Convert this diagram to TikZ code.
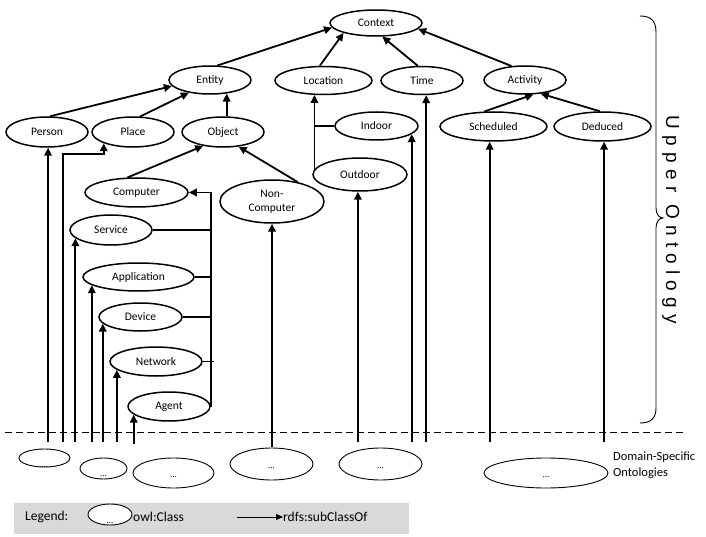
\documentclass[tikz,border=0pt]{standalone}
\usepackage{fontspec}
\setmainfont{Carlito}
\newfontfamily\uofont[LetterSpace=33]{Liberation Sans}
\usetikzlibrary{shapes.geometric,arrows.meta,backgrounds}
\begin{document}
\begin{tikzpicture}[x=1pt,y=-1pt,
  cls/.style={ellipse,draw,line width=1.5pt,fill=white,inner sep=0pt,font=\fontsize{11.5}{14}\selectfont},
  dom/.style={ellipse,draw,line width=0.9pt,fill=white,inner sep=0pt,font=\fontsize{9}{10}\selectfont},
  arr/.style={line width=1.8pt,-{Triangle[length=8pt,width=7.5pt]}},
  ln/.style={line width=1.8pt},
  sz/.style 2 args={minimum width=#1,minimum height=#2},
  lgtext/.style={font=\fontsize{13.5}{16}\selectfont,inner sep=0pt},
]
\useasboundingbox (0,0) rectangle (706,537);

% upper ontology classes
\node[cls,sz={92}{26}] (context) at (376,23) {Context};
\node[cls,sz={82}{28}] (entity) at (210,80) {Entity};
\node[cls,sz={97}{28}] (location) at (323.5,80.5) {Location};
\node[cls,sz={82}{28}] (time) at (422,80.5) {Time};
\node[cls,sz={82}{28}] (activity) at (525,80) {Activity};
\node[cls,sz={82}{30}] (person) at (47,132) {Person};
\node[cls,sz={82}{30}] (place) at (133,132) {Place};
\node[cls,sz={82}{30}] (object) at (223,132) {Object};
\node[cls,sz={83}{28}] (indoor) at (376.5,126) {Indoor};
\node[cls,sz={107}{29}] (scheduled) at (493.5,126.5) {Scheduled};
\node[cls,sz={97}{29}] (deduced) at (602.5,126.5) {Deduced};
\node[cls,sz={94}{33}] (outdoor) at (360,174.5) {Outdoor};
\node[cls,sz={103}{29}] (computer) at (136.5,192.5) {Computer};
\node[cls,sz={104}{43},align=center] (noncomp) at (272,201.5) {Non-\\Computer};
\node[cls,sz={82}{30}] (service) at (111,230) {Service};
\node[cls,sz={111}{28}] (application) at (138.5,277) {Application};
\node[cls,sz={83}{28}] (device) at (140.5,317) {Device};
\node[cls,sz={92}{29}] (network) at (156,361.5) {Network};
\node[cls,sz={82}{29}] (agent) at (169,406.5) {Agent};

% domain-specific ontologies
\node[dom,sz={51}{18}] (d1) at (44.5,458) {\smash{\raisebox{-9pt}{...}}};
\node[dom,sz={47}{21}] (d2) at (103.5,468.5) {\smash{\raisebox{-7.5pt}{...}}};
\node[dom,sz={81}{30}] (d3) at (173.5,473) {\smash{\raisebox{-4pt}{...}}};
\node[dom,sz={83}{32}] (d4) at (271.5,464) {\smash{\raisebox{-4pt}{...}}};
\node[dom,sz={83}{32}] (d5) at (380.5,464) {\smash{\raisebox{-4pt}{...}}};
\node[dom,sz={124}{30}] (d6) at (546,473) {\smash{\raisebox{-4pt}{...}}};
\node[anchor=west,align=left,inner sep=0pt,font=\fontsize{12.5}{16}\selectfont] (dso) at (613,465) {Domain-Specific\\Ontologies};

% legend
\node[lgtext,anchor=west] (lg) at (25,517) {Legend:};
\node[dom,sz={44}{21}] (lgell) at (110,514.5) {\smash{\raisebox{-8.5pt}{...}}};
\node[lgtext,anchor=west] (owl) at (133,517) {owl:Class};
\node[lgtext,anchor=west] (rdfs) at (283,517) {rdfs:subClassOf};
\coordinate (lgA) at (237,517);

% upper ontology label
\node[rotate=-90,inner sep=0pt,font=\uofont\fontsize{19}{22}\selectfont] (uo) at (671,220) {Upper Ontology};

% helper coordinates
\coordinate (base) at (0,442);
\coordinate (base2) at (0,444);
\coordinate (base3) at (0,447);
\coordinate (pl0) at (63,442);
\coordinate (pl1) at (0,154);
\coordinate (dl) at (5,432);
\coordinate (dr) at (683,432);

\begin{pgfonlayer}{background}
\fill[black!15] (14,503) rectangle (409,534);
\draw[line width=0.9pt,-{Triangle[length=7pt,width=6pt]}] (lgA) -- (rdfs.west);

\draw[arr] (entity.63) -- (context.186);
\draw[arr] (location.104) -- (context.197);
\draw[arr] (time.106) -- (context.-65);
\draw[arr] (activity.134) -- (context.-8);
\draw[arr] (person.79) -- (entity.-171);
\draw[arr] (place.65) -- (entity.211);
\draw[arr] (entity.-39 |- object.north) -- (entity.-39);
\draw[arr] (scheduled.121) -- (activity.-60);
\draw[arr] (deduced.100) -- (activity.-41);
\draw[arr] (computer.121) -- (object.-145);
\draw[arr] (noncomp.37) -- (object.-43);
\draw[arr] (location.238 |- outdoor.west) -- (location.238);
\draw[ln] (location.238 |- indoor.west) -- (indoor.west);
\draw[arr] (agent.east) -- (agent.east |- computer.east) -- (computer.east);
\draw[ln] (service.east) -- (service.east -| agent.east);
\draw[ln] (application.east) -- (application.east -| agent.east);
\draw[ln] (device.east) -- (device.east -| agent.east);
\draw[ln] (network.east) -- ++(11,0);

\draw[arr] (person.-86 |- base) -- (person.-86);
\draw[arr] (pl0) |- (place.201 |- pl1) -- (place.201);
\draw[arr] (service.193 |- base) -- (service.193);
\draw[arr] (application.190 |- base) -- (application.190);
\draw[arr] (device.190 |- base) -- (device.190);
\draw[arr] (network.192 |- base) -- (network.192);
\draw[arr] (agent.193 |- base2) -- (agent.193);
\draw[arr] (noncomp.south |- base3) -- (noncomp.south);
\draw[arr] (outdoor.-97 |- base) -- (outdoor.-97);
\draw[arr] (indoor.-13 |- base) -- (indoor.-13);
\draw[arr] (time.-74 |- base) -- (time.-74);
\draw[arr] (scheduled.-104 |- base) -- (scheduled.-104);
\draw[arr] (deduced.-84 |- base) -- (deduced.-84);

\draw[line width=1pt,dash pattern=on 7pt off 4pt] (dl) -- (dr);
\end{pgfonlayer}

% brace
\draw[line width=0.9pt] (640,16) .. controls (651,16) and (656,21) .. (656,32) -- (656,208)
  .. controls (656,214) and (659,218) .. (663,218)
  .. controls (659,218) and (656,222) .. (656,228) -- (656,408)
  .. controls (656,418) and (651,423) .. (640,423);
\end{tikzpicture}
\end{document}
